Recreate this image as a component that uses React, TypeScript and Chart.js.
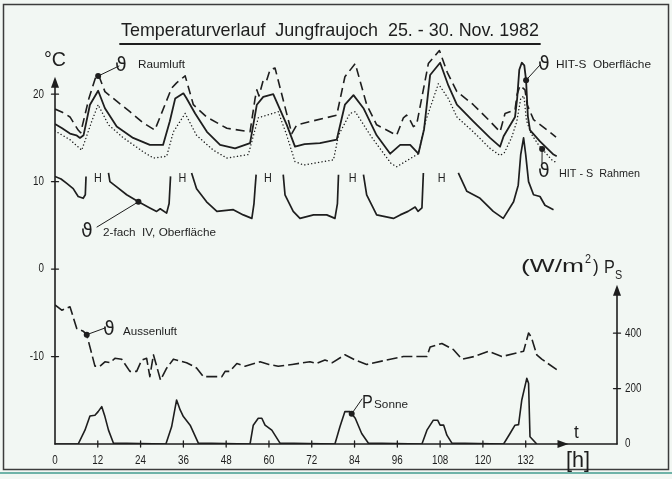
import { useEffect, useRef } from "react";
import { Chart, registerables } from "chart.js";

Chart.register(...registerables);

// ---------- data (hours since start, °C / W/m²) ----------
const raumluftH = [0, 2.2, 4.2, 6.5, 7.2, 9.5, 11.6, 12.4, 14, 17.3, 21, 24.8, 28, 32.7, 34.1, 36.5, 38.8, 42.5, 48.2, 54.7, 56.1, 56.6, 57.2, 58.4, 59.3, 60.3, 61.7, 66.4, 67.8, 79, 81.3, 84.2, 87.4, 90.2, 95.8, 97.7, 98.6, 99.6, 100.5, 101.4, 104.7, 107.8, 110, 112.7, 117.3, 122, 124.8, 126.2, 129, 129.6, 130.4, 131.8, 132.4, 134.2, 137.4, 140.5];
const raumluftT = [18.3, 17.9, 17.4, 15.9, 15.6, 19.5, 22.2, 22.0, 20.3, 19.2, 18.0, 16.7, 15.9, 20.7, 21.3, 22.1, 18.8, 17.4, 16.1, 15.7, 19.5, 20.5, 19.8, 21.6, 21.5, 22.8, 23.0, 15.5, 16.5, 17.6, 22.0, 23.5, 18.8, 16.5, 15.3, 17.3, 17.6, 17.0, 16.3, 16.5, 23.5, 25.0, 22.5, 20.3, 18.8, 16.9, 15.7, 17.8, 18.2, 20.0, 21.0, 20.5, 18.8, 17.1, 16.1, 15.1];

const hitsOberH = [0, 2, 4.2, 6, 7, 8, 9.8, 12.1, 14, 17.3, 21.9, 26.6, 30.3, 32.2, 33.7, 36, 36.8, 39.3, 42.6, 46.3, 50.5, 54.7, 56.6, 58.4, 61.2, 65, 67.3, 70, 74.3, 79, 81.3, 83.7, 86.5, 90.2, 94, 96.8, 99.6, 101.9, 103.5, 105.2, 108, 110.3, 112.7, 117.3, 122, 124.8, 125.8, 129, 129.6, 130.2, 130.9, 131.6, 132.1, 132.6, 133.2, 136, 139.8, 140.7];
const hitsOberT = [16.6, 16.1, 15.5, 15.3, 15.0, 15.3, 18.8, 20.4, 18.4, 16.3, 15.0, 14.2, 14.2, 16.9, 19.5, 20.1, 19.6, 17.8, 15.7, 14.2, 13.8, 14.4, 18.8, 19.7, 20.0, 16.5, 14.0, 14.3, 14.4, 14.8, 18.8, 19.9, 18.4, 15.3, 13.2, 14.2, 14.2, 13.2, 16.0, 22.2, 23.6, 21.0, 18.8, 16.9, 15.0, 14.0, 15.2, 17.4, 19.5, 22.8, 23.6, 23.3, 21.6, 17.5, 15.9, 14.6, 13.1, 12.9];

const hitsRahmenH = [0, 4.2, 7.5, 10.3, 12.1, 15, 19.2, 24.8, 27.6, 31.3, 33.2, 36.5, 39.7, 44.4, 48.2, 54.2, 57, 62.6, 65, 67.3, 69.7, 78.1, 79.5, 82.7, 84.2, 88.6, 94.2, 95.8, 101.9, 104, 107.5, 110.3, 112.7, 117.3, 122, 124.8, 126, 128, 129.5, 130.6, 131.5, 132.2, 133.5, 135.6, 139.3, 140.5];
const hitsRahmenT = [15.8, 14.8, 13.6, 16.9, 18.8, 16.5, 15.0, 13.4, 12.7, 12.9, 15.7, 17.8, 15.3, 13.6, 12.7, 13.1, 17.3, 18.0, 15.3, 12.3, 11.9, 12.5, 15.3, 17.8, 18.0, 15.2, 12.1, 11.7, 13.2, 17.0, 21.2, 19.5, 17.4, 15.7, 13.8, 13.0, 13.3, 15.0, 16.9, 19.5, 19.8, 17.0, 15.5, 14.2, 12.5, 12.2];

// null marks the heating ("H") gaps
const zweifachH = [0, 1.7, 3.3, 5.1, 6.5, 7.9, 8.5, 8.7, 10, 15, 15.4, 17.3, 20.1, 23.4, 26.6, 28.5, 29.5, 31.3, 32, 32.4, 35, 38.3, 39.7, 42.5, 45.4, 50, 52.8, 55.2, 55.8, 56.1, 56.4, 60, 64, 64.5, 66.8, 68.7, 72.5, 76.2, 78.5, 79.2, 79.5, 84, 86.5, 87.4, 90.2, 94.9, 96.8, 99, 101, 101.8, 102.9, 103.3, 108, 113.1, 115.5, 119.2, 122.9, 125.7, 128.6, 129.9, 130.6, 131.4, 132, 132.8, 134.2, 136, 137.4, 139.8];
const zweifachT = [10.6, 10.3, 9.8, 9.2, 8.3, 8.1, 8.5, 10.6, null, 11.0, 10.0, 9.4, 8.5, 7.7, 7.0, 6.6, 6.9, 6.4, 7.5, 10.6, null, 11.0, 9.2, 7.7, 6.6, 6.8, 6.2, 5.8, 7.5, 9.2, 10.8, null, 10.8, 8.5, 6.6, 5.8, 6.2, 6.2, 5.8, 7.5, 10.8, null, 10.8, 8.5, 6.2, 5.8, 6.2, 6.6, 7.1, 6.6, 7.0, 11.0, null, 11.0, 8.9, 8.1, 6.6, 5.8, 7.7, 9.6, 13.1, 15.0, 13.1, 10.0, 8.5, 8.3, 7.3, 6.8];

const aussenH = [0, 1.9, 4.2, 6.1, 7.9, 8.9, 11.2, 12.6, 14, 15.5, 16.8, 18.7, 21, 22.9, 24.3, 25.7, 26.6, 27.6, 28.3, 29.6, 31.2, 33.2, 36.9, 39.7, 41.6, 46.8, 47.7, 49, 51, 53.3, 57.5, 60, 62.6, 66.5, 71.5, 73.3, 75.7, 77.8, 81.3, 84.2, 87.4, 93, 97.7, 104.3, 105.2, 108.5, 111.7, 114.1, 117.5, 121.5, 125.3, 131.4, 132.8, 133.6, 135.1, 136.5, 140.7];
const aussenT = [-4.1, -4.7, -4.3, -6.8, -7.1, -7.5, -11.1, -11.1, -10.6, -10.7, -10.2, -10.3, -11.7, -11.7, -10.4, -10.2, -12.3, -9.8, -10.8, -12.7, -11.4, -10.3, -10.7, -11.3, -12.3, -12.3, -11.7, -11.7, -10.8, -11.1, -10.6, -10.9, -11.1, -10.9, -10.6, -10.8, -10.4, -10.7, -9.8, -10.4, -10.9, -10.4, -10.0, -10.0, -8.9, -8.5, -9.2, -10.3, -10.0, -9.4, -10.0, -9.4, -7.3, -7.8, -9.8, -10.3, -11.5];

const sonneH = [0, 6.5, 8.4, 9.8, 11.2, 12.1, 13.1, 14, 15, 16.4, 31.1, 32.7, 34.1, 35.1, 36, 37.9, 40.2, 54.7, 55.6, 57, 58, 58.9, 60.8, 63.1, 78.5, 79.9, 81.3, 82.7, 84.2, 86, 87.9, 102.9, 104.3, 106.1, 107.3, 108, 109, 109.9, 111.3, 125.8, 127.6, 129, 130, 130.9, 132.3, 132.8, 133.2, 135.1];
const sonneW = [0, 0, 50, 101, 104, 117, 135, 99, 50, 3, 0, 62, 159, 123, 99, 68, 3, 0, 68, 93, 93, 68, 50, 3, 0, 62, 117, 117, 93, 38, 3, 0, 50, 86, 86, 68, 68, 32, 3, 0, 38, 68, 70, 159, 237, 219, 26, 0];

const xTicks = [0, 12, 24, 36, 48, 60, 72, 84, 96, 108, 120, 132];
const leftTicks = [20, 10, 0, -10];
const rightTicks = [0, 200, 400];
const heatingMarks = [12, 35.7, 59.7, 83.5, 108.4];

const TITLE = "Temperaturverlauf  Jungfraujoch  25. - 30. Nov. 1982";
const NARROW = "'Liberation Sans Narrow', 'Liberation Sans', 'DejaVu Sans', sans-serif";
const GREEK = "'DejaVu Sans', sans-serif";
const INK = "#1e1e1e";
const BG = "#f2f7f3";

function pts(hs: number[], vs: (number | null)[]) {
  return hs.map((h, i) => ({ x: h, y: vs[i] }));
}

function interp(hs: number[], vs: (number | null)[], h: number): number {
  for (let i = 0; i < hs.length - 1; i++) {
    const a = vs[i];
    const b = vs[i + 1];
    if (a == null || b == null) continue;
    if (h >= hs[i] && h <= hs[i + 1]) {
      const t = (h - hs[i]) / (hs[i + 1] - hs[i] || 1);
      return a + (b - a) * t;
    }
  }
  return 0;
}

function fitText(ctx: CanvasRenderingContext2D, text: string, x: number, y: number, w: number, size: number, family = NARROW) {
  ctx.font = `${size}px ${family}`;
  const m = ctx.measureText(text).width || 1;
  ctx.save();
  ctx.translate(x, y);
  ctx.scale(w / m, 1);
  ctx.textAlign = "left";
  ctx.textBaseline = "alphabetic";
  ctx.fillText(text, 0, 0);
  ctx.restore();
}

// narrow text with horizontal squeeze sx, aligned left/center/right
function narrowText(ctx: CanvasRenderingContext2D, text: string, x: number, y: number, size: number, align: "left" | "center" | "right" = "left", base: CanvasTextBaseline = "alphabetic", sx = 0.82, family = NARROW) {
  ctx.font = `${size}px ${family}`;
  const w = ctx.measureText(text).width * sx;
  let left = x;
  if (align === "center") left = x - w / 2;
  if (align === "right") left = x - w;
  ctx.save();
  ctx.translate(left, y);
  ctx.scale(sx, 1);
  ctx.textAlign = "left";
  ctx.textBaseline = base;
  ctx.fillText(text, 0, 0);
  ctx.restore();
}

const decor = {
  id: "decor",
  beforeDraw(chart: any) {
    const ctx: CanvasRenderingContext2D = chart.ctx;
    ctx.save();
    ctx.fillStyle = BG;
    ctx.fillRect(0, 0, chart.width, chart.height);
    ctx.strokeStyle = "#3c3c3c";
    ctx.lineWidth = 1.5;
    ctx.strokeRect(3.5, 4.5, 665, 465);
    ctx.strokeStyle = "#6fb3a8";
    ctx.lineWidth = 2;
    ctx.beginPath();
    ctx.moveTo(0, 473);
    ctx.lineTo(672, 473);
    ctx.stroke();
    ctx.restore();
  },
  afterDatasetsDraw(chart: any) {
    const ctx: CanvasRenderingContext2D = chart.ctx;
    const xs = chart.scales.x;
    const ys = chart.scales.y;
    const y2 = chart.scales.y2;
    const area = chart.chartArea;
    const X = (h: number) => xs.getPixelForValue(h);
    const Y = (t: number) => ys.getPixelForValue(t);
    const Y2 = (w: number) => y2.getPixelForValue(w);
    ctx.save();
    ctx.strokeStyle = INK;
    ctx.fillStyle = INK;
    ctx.lineWidth = 1.6;
    ctx.lineCap = "round";

    const x0 = area.left;
    const xr = area.right;
    const yb = area.bottom;

    // x axis with arrow
    ctx.beginPath();
    ctx.moveTo(x0, yb);
    ctx.lineTo(xr, yb);
    ctx.stroke();
    const tipX = X(144);
    ctx.beginPath();
    ctx.moveTo(tipX, yb);
    ctx.lineTo(tipX - 11, yb - 4);
    ctx.lineTo(tipX - 11, yb + 4);
    ctx.closePath();
    ctx.fill();

    // left axis with arrow
    const tipL = Y(22);
    ctx.beginPath();
    ctx.moveTo(x0, yb);
    ctx.lineTo(x0, tipL + 4);
    ctx.stroke();
    ctx.beginPath();
    ctx.moveTo(x0, tipL);
    ctx.lineTo(x0 - 4, tipL + 11);
    ctx.lineTo(x0 + 4, tipL + 11);
    ctx.closePath();
    ctx.fill();

    // right axis with arrow
    const tipR = Y2(575);
    ctx.beginPath();
    ctx.moveTo(xr, yb);
    ctx.lineTo(xr, tipR + 4);
    ctx.stroke();
    ctx.beginPath();
    ctx.moveTo(xr, tipR);
    ctx.lineTo(xr - 4, tipR + 11);
    ctx.lineTo(xr + 4, tipR + 11);
    ctx.closePath();
    ctx.fill();

    // ticks
    ctx.lineWidth = 1.3;
    xTicks.forEach((h) => {
      if (h === 0) return;
      const px = X(h);
      ctx.beginPath();
      ctx.moveTo(px, yb - 3);
      ctx.lineTo(px, yb + 3);
      ctx.stroke();
    });
    leftTicks.forEach((t) => {
      const py = Y(t);
      ctx.beginPath();
      ctx.moveTo(x0 - 3.5, py);
      ctx.lineTo(x0 + 3.5, py);
      ctx.stroke();
    });
    rightTicks.forEach((w) => {
      if (w === 0) return;
      const py = Y2(w);
      ctx.beginPath();
      ctx.moveTo(xr - 3.5, py);
      ctx.lineTo(xr + 3.5, py);
      ctx.stroke();
    });

    // tick labels
    xTicks.forEach((h) => narrowText(ctx, String(h), X(h), yb + 17, 12, "center", "middle"));
    leftTicks.forEach((t) => narrowText(ctx, String(t), x0 - 11, Y(t), 12, "right", "middle"));
    rightTicks.forEach((w) => narrowText(ctx, String(w), xr + 8, Y2(w), 12, "left", "middle"));

    // axis titles
    fitText(ctx, "°C", 44, 66, 22, 20);
    narrowText(ctx, "t", 574, 438, 19, "left", "alphabetic", 0.9);
    fitText(ctx, "[h]", 566, 467, 24, 22);
    fitText(ctx, "(W/m", 521, 272, 63, 19);
    narrowText(ctx, "2", 585, 263, 12, "left", "alphabetic", 0.9);
    narrowText(ctx, ")", 593, 272, 19, "left", "alphabetic", 0.9);
    narrowText(ctx, "P", 604, 273, 18, "left", "alphabetic", 0.9);
    narrowText(ctx, "S", 615, 279, 12, "left", "alphabetic", 0.9);

    // title
    fitText(ctx, TITLE, 121, 36, 418, 19);
    ctx.lineWidth = 1.8;
    ctx.beginPath();
    ctx.moveTo(120, 44);
    ctx.lineTo(540, 44);
    ctx.stroke();

    // heating marks
    heatingMarks.forEach((h) => narrowText(ctx, "H", X(h), Y(10.3), 12, "center", "middle", 0.9));

    // annotations: dot on series, leader, ϑ + label
    const notes = [
      { dx: X(12.1), dy: Y(interp(raumluftH, raumluftT, 12.1)), lx: 119, ly: 66, gx: 115, gy: 71, text: "Raumluft", tx: 138, ty: 68, tw: 47 },
      { dx: X(132.1), dy: Y(interp(hitsOberH, hitsOberT, 132.1)), lx: 540, ly: 65, gx: 538, gy: 70, text: "HIT-S  Oberfläche", tx: 556, ty: 68, tw: 95 },
      { dx: X(136.6), dy: Y(interp(hitsRahmenH, hitsRahmenT, 136.6)), lx: 542, ly: 163, gx: 538, gy: 177, text: "HIT - S  Rahmen", tx: 559, ty: 177, tw: 81 },
      { dx: X(23.4), dy: Y(interp(zweifachH, zweifachT, 23.4)), lx: 97, ly: 227, gx: 81, gy: 237, text: "2-fach  IV, Oberfläche", tx: 103, ty: 236, tw: 113 },
      { dx: X(8.9), dy: Y(interp(aussenH, aussenT, 8.9)), lx: 105, ly: 328, gx: 103, gy: 335, text: "Aussenluft", tx: 123, ty: 335, tw: 54 },
    ];
    ctx.lineWidth = 1;
    notes.forEach((n) => {
      ctx.beginPath();
      ctx.moveTo(n.dx, n.dy);
      ctx.lineTo(n.lx, n.ly);
      ctx.stroke();
      ctx.beginPath();
      ctx.arc(n.dx, n.dy, 3, 0, Math.PI * 2);
      ctx.fill();
      ctx.font = `19px ${GREEK}`;
      ctx.textAlign = "left";
      ctx.textBaseline = "alphabetic";
      ctx.fillText("ϑ", n.gx, n.gy);
      fitText(ctx, n.text, n.tx, n.ty, n.tw, 11);
    });

    // P Sonne
    const sx = X(83.2);
    const sy = Y2(interp(sonneH, sonneW, 83.2));
    ctx.beginPath();
    ctx.moveTo(sx, sy);
    ctx.lineTo(362, 399);
    ctx.stroke();
    ctx.beginPath();
    ctx.arc(sx, sy, 3, 0, Math.PI * 2);
    ctx.fill();
    narrowText(ctx, "P", 362, 408, 19, "left", "alphabetic", 0.85);
    fitText(ctx, "Sonne", 374, 408, 34, 11);

    ctx.restore();
  },
};

export default function App() {
  const ref = useRef<HTMLCanvasElement>(null);
  useEffect(() => {
    document.body.style.margin = "0";
    const canvas = ref.current;
    if (!canvas) return;
    const common = {
      borderColor: INK,
      backgroundColor: INK,
      pointRadius: 0,
      fill: false,
      tension: 0,
      spanGaps: false,
      borderJoinStyle: "round" as const,
      xAxisID: "x",
    };
    const chart = new Chart(canvas, {
      type: "line",
      data: {
        datasets: [
          { ...common, label: "Raumluft", data: pts(raumluftH, raumluftT), yAxisID: "y", borderWidth: 1.6, borderDash: [9, 5] },
          { ...common, label: "HIT-S Oberfläche", data: pts(hitsOberH, hitsOberT), yAxisID: "y", borderWidth: 1.8 },
          { ...common, label: "HIT-S Rahmen", data: pts(hitsRahmenH, hitsRahmenT), yAxisID: "y", borderWidth: 1.4, borderDash: [0.1, 3.4], borderCapStyle: "round" },
          { ...common, label: "2-fach IV, Oberfläche", data: pts(zweifachH, zweifachT), yAxisID: "y", borderWidth: 1.7 },
          { ...common, label: "Aussenluft", data: pts(aussenH, aussenT), yAxisID: "y", borderWidth: 1.6, borderDash: [11, 4] },
          { ...common, label: "P Sonne", data: pts(sonneH, sonneW), yAxisID: "y2", borderWidth: 1.6 },
        ] as any,
      },
      options: {
        responsive: false,
        animation: false,
        devicePixelRatio: 1,
        events: [],
        layout: { padding: { left: 55, right: 55, top: 33, bottom: 35 } },
        plugins: { legend: { display: false }, title: { display: false }, tooltip: { enabled: false } },
        scales: {
          x: { type: "linear", min: 0, max: 157.6, display: false },
          y: { type: "linear", min: -20, max: 27, display: false },
          y2: { type: "linear", min: 0, max: 1484, display: false },
        },
      },
      plugins: [decor],
    });
    return () => chart.destroy();
  }, []);
  return (
    <div style={{ position: "fixed", left: 0, top: 0, width: 672, height: 479, background: BG }}>
      <canvas ref={ref} width={672} height={479} style={{ display: "block", width: 672, height: 479 }} />
    </div>
  );
}
